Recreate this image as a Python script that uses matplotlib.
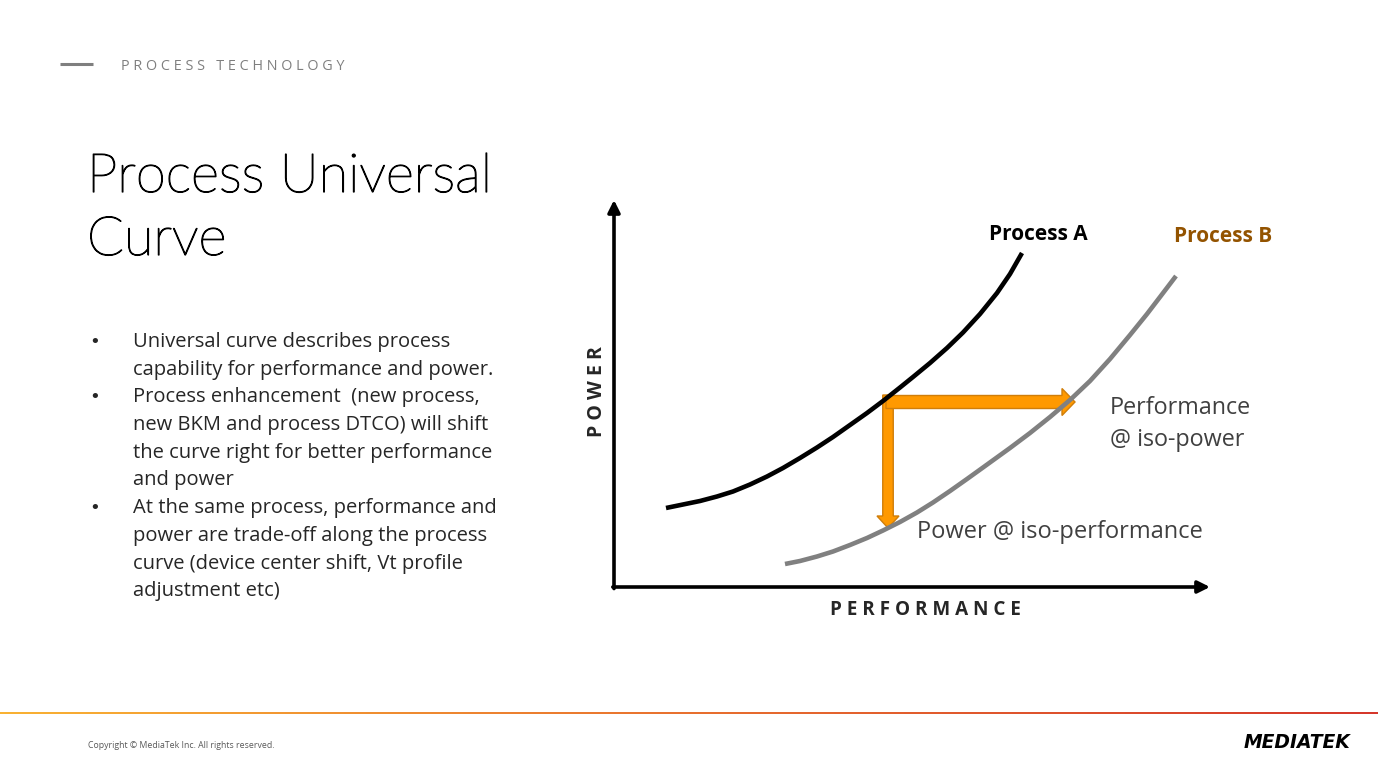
import matplotlib
matplotlib.use("Agg")
import matplotlib.pyplot as plt
import matplotlib.patheffects as pe
import numpy as np
from matplotlib.colors import LinearSegmentedColormap
from matplotlib.patches import FancyArrow

# curve points (performance, power) in chart units
perf_a = [52, 69, 86, 103, 119, 136, 153, 169, 186, 203, 219, 236, 253, 269,
          286, 299, 316, 333, 349, 366, 383, 396, 408]
power_a = [79, 82.5, 86, 90.5, 95.5, 102.5, 110.5, 119, 129, 139.5, 150, 162, 174, 186,
           199.5, 210, 224, 239, 254.5, 273, 294, 313, 334]
perf_b = [171, 186, 203, 219, 236, 253, 269, 286, 303, 319, 336, 353, 369, 396,
          416, 436, 456, 476, 496, 516, 533, 546, 562]
power_b = [23, 26, 30.5, 35.5, 42, 49, 56.5, 65, 74.5, 84.5, 96, 108, 119.5, 139,
           154, 170, 187, 206, 228, 252, 273, 290, 311]

# iso-power / iso-performance arrows
iso_perf = 273        # performance of the starting point on curve A
iso_power = 185       # power of the starting point on curve A
perf_at_iso_power = 461
power_at_iso_perf = 59

title_lines = ["Process Universal", "Curve"]
bullets = [
    ["Universal curve describes process",
     "capability for performance and power."],
    ["Process enhancement  (new process,",
     "new BKM and process DTCO) will shift",
     "the curve right for better performance",
     "and power"],
    ["At the same process, performance and",
     "power are trade-off along the process",
     "curve (device center shift, Vt profile",
     "adjustment etc)"],
]

W, H = 1378, 759
fig = plt.figure(figsize=(W / 100, H / 100), dpi=100)
fig.patch.set_facecolor("white")

# slide layer in pixel coordinates
bg = fig.add_axes([0, 0, 1, 1])
bg.axis("off")

font = "Open Sans"
txt = "#262626"

# header
bg.plot([60, 93], [64, 64], color="#7f7f7f", lw=2.2, solid_capstyle="butt")
bg.text(121, 66, "P R O C E S S   T E C H N O L O G Y", fontsize=10.4, color="#7f7f7f",
        family=font, va="center", ha="left")

# title
for i, line in enumerate(title_lines):
    bg.text(87, 192 + i * 63, line, fontsize=39, color="black", family="Lato",
            fontweight="light", va="baseline", ha="left",
            path_effects=[pe.withStroke(linewidth=0.9, foreground="black")])

# bullet list
y = 347
for item in bullets:
    bg.text(89, y, "\u2022", fontsize=13, color=txt, family="DejaVu Sans",
            va="baseline", ha="left")
    for line in item:
        bg.text(133, y, line, fontsize=14.5, color=txt, family=font, va="baseline", ha="left")
        y += 27.7

# footer gradient line
grad = LinearSegmentedColormap.from_list("mtk", ["#F9B233", "#E8702F", "#D5372B"])
bg.imshow(np.linspace(0, 1, 256)[None, :], cmap=grad, aspect="auto",
          extent=[0, W, 714.2, 712.2], zorder=1)
bg.text(88, 745, "Copyright \u00a9 MediaTek Inc. All rights reserved.", fontsize=6.3,
        color="#595959", family=font, va="center", ha="left")
bg.text(1350, 742, "MEDIATEK", fontsize=13.5, color="black", family="DejaVu Sans",
        fontweight="heavy", style="italic", va="center", ha="right")
bg.set_xlim(0, W)
bg.set_ylim(H, 0)

# chart
ox, oy, cw, ch = 614, 587, 596, 387
ax = fig.add_axes([ox / W, (H - oy) / H, cw / W, ch / H])
ax.set_xlim(0, cw)
ax.set_ylim(0, ch)
ax.axis("off")
ax.patch.set_alpha(0)

arrow_kw = dict(arrowstyle="-|>", lw=2.6, color="black", mutation_scale=18,
                shrinkA=0, shrinkB=0)
ax.annotate("", xy=(0, 1), xytext=(0, -0.004), xycoords="axes fraction",
            arrowprops=arrow_kw)
ax.annotate("", xy=(1, 0), xytext=(-0.002, 0), xycoords="axes fraction",
            arrowprops=arrow_kw)

ax.plot(perf_a, power_a, color="black", lw=3.3, solid_capstyle="butt", solid_joinstyle="round")
ax.plot(perf_b, power_b, color="#808080", lw=3.3, solid_capstyle="butt", solid_joinstyle="round")

orange, edge = "#FF9900", "#D07E0A"
ax.add_patch(FancyArrow(iso_perf + 1, iso_power + 7, 0, power_at_iso_perf - iso_power - 7,
                        width=10.5, head_width=22, head_length=12,
                        length_includes_head=True, fc=orange, ec=edge, lw=1))
ax.add_patch(FancyArrow(iso_perf - 1, iso_power, perf_at_iso_power - iso_perf + 1, 0,
                        width=13, head_width=27, head_length=13,
                        length_includes_head=True, fc=orange, ec=edge, lw=1))

# chart labels (slide pixel coordinates)
bg.text(1038, 234, "Process A", fontsize=15, fontweight="bold", color="black",
        family=font, ha="center", va="center", zorder=5)
bg.text(1223, 236, "Process B", fontsize=15, fontweight="bold", color="#935300",
        family=font, ha="center", va="center", zorder=5)
bg.text(1110, 408, "Performance", fontsize=16.8, color="#404040", family=font,
        ha="left", va="center")
bg.text(1110, 440, "@ iso-power", fontsize=16.8, color="#404040", family=font,
        ha="left", va="center")
bg.text(917, 532, "Power @ iso-performance", fontsize=17, color="#404040", family=font,
        ha="left", va="center")
bg.text(597, 392, "P O W E R", fontsize=14, fontweight="bold", color=txt, family=font,
        rotation=90, ha="center", va="center")
bg.text(925, 610, "P E R F O R M A N C E", fontsize=13.6, fontweight="bold", color=txt,
        family=font, ha="center", va="center")

fig.savefig("out.png", dpi=100, facecolor="white")
